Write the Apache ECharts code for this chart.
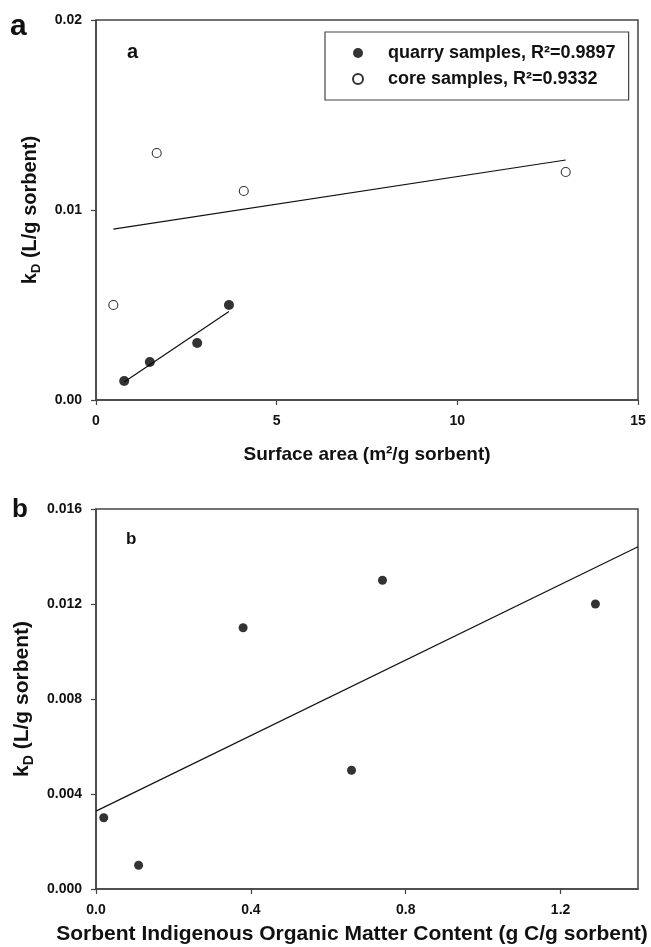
<!DOCTYPE html>
<html>
<head>
<meta charset="utf-8">
<script src="https://cdn.jsdelivr.net/npm/echarts@6/dist/echarts.min.js"></script>
<style>
html,body{margin:0;padding:0;background:#fff;}
#chart{width:651px;height:947px;}
</style>
</head>
<body>
<div id="chart"></div>
<script>
// Panel a: surface area vs kD
var quarrySA = [0.78, 1.49, 2.80, 3.68];
var quarryKD = [0.0010, 0.0020, 0.0030, 0.0050];
var coreSA = [0.48, 1.68, 4.09, 13.0];
var coreKD = [0.0050, 0.0130, 0.0110, 0.0120];
// fitted lines as drawn (endpoints)
var quarryFitX = [0.78, 3.68];
var quarryFitY = [0.00095, 0.00466];
var coreFitX = [0.48, 13.0];
var coreFitY = [0.00899, 0.01263];
var legendNames = ['quarry samples, R\u00b2=0.9897', 'core samples, R\u00b2=0.9332'];

// Panel b: organic matter content vs kD
var omX = [0.02, 0.11, 0.38, 0.66, 0.74, 1.29];
var omKD = [0.0030, 0.0010, 0.0110, 0.0050, 0.0130, 0.0120];
var omFitX = [0.0, 1.4];
var omFitY = [0.00328, 0.01441];

function pairs(xs, ys) { return xs.map(function (x, i) { return [x, ys[i]]; }); }

var FONT = '"Liberation Sans", Arial, sans-serif';
var AX = '#444';
var TXT = '#111';

function yName(fs, sub) {
  return {
    rich: {
      n: { fontFamily: FONT, fontWeight: 'bold', fontSize: fs, color: TXT, lineHeight: fs + 6, verticalAlign: 'middle' },
      s: { fontFamily: FONT, fontWeight: 'bold', fontSize: sub, color: TXT, lineHeight: fs + 6, verticalAlign: 'bottom', padding: [9, 0, 0, 0] }
    }
  };
}

var chart = echarts.init(document.getElementById('chart'), null, { renderer: 'canvas' });

var option = {
  backgroundColor: '#fff',
  animation: false,
  grid: [
    { left: 96, top: 20, width: 542, height: 380, show: true, borderColor: AX, borderWidth: 1.5, backgroundColor: 'transparent' },
    { left: 96, top: 509, width: 542, height: 380, show: true, borderColor: AX, borderWidth: 1.5, backgroundColor: 'transparent' }
  ],
  xAxis: [
    {
      gridIndex: 0, type: 'value', min: 0, max: 15, interval: 5,
      name: 'Surface area (m\u00b2/g sorbent)', nameLocation: 'middle', nameGap: 45,
      nameTextStyle: { fontFamily: FONT, fontWeight: 'bold', fontSize: 19, color: TXT },
      axisLine: { show: true, lineStyle: { color: AX, width: 1.5 } },
      axisTick: { show: true, inside: false, length: 5, lineStyle: { color: AX, width: 1.2 } },
      axisLabel: { margin: 14, fontFamily: FONT, fontWeight: 'bold', fontSize: 14, color: TXT },
      splitLine: { show: false }
    },
    {
      gridIndex: 1, type: 'value', min: 0, max: 1.4, interval: 0.4,
      name: 'Sorbent Indigenous Organic Matter Content (g C/g sorbent)', nameLocation: 'middle', nameGap: 35,
      nameTextStyle: { fontFamily: FONT, fontWeight: 'bold', fontSize: 21, color: TXT, padding: [0, 30, 0, 0] },
      axisLine: { show: true, lineStyle: { color: AX, width: 1.5 } },
      axisTick: { show: true, inside: false, length: 5, lineStyle: { color: AX, width: 1.2 } },
      axisLabel: { margin: 14, fontFamily: FONT, fontWeight: 'bold', fontSize: 14, color: TXT, showMaxLabel: false,
        formatter: function (v) { return v.toFixed(1); } },
      splitLine: { show: false }
    }
  ],
  yAxis: [
    {
      gridIndex: 0, type: 'value', min: 0, max: 0.02, interval: 0.01,
      name: '{n|k}{s|D}{n| (L/g sorbent)}', nameLocation: 'middle', nameGap: 53, nameRotate: 90,
      nameTextStyle: yName(20, 13),
      axisLine: { show: true, lineStyle: { color: AX, width: 1.5 } },
      axisTick: { show: true, inside: false, length: 5, lineStyle: { color: AX, width: 1.2 } },
      axisLabel: { margin: 14, fontFamily: FONT, fontWeight: 'bold', fontSize: 14, color: TXT,
        formatter: function (v) { return v.toFixed(2); } },
      splitLine: { show: false }
    },
    {
      gridIndex: 1, type: 'value', min: 0, max: 0.016, interval: 0.004,
      name: '{n|k}{s|D}{n| (L/g sorbent)}', nameLocation: 'middle', nameGap: 58, nameRotate: 90,
      nameTextStyle: yName(21, 14),
      axisLine: { show: true, lineStyle: { color: AX, width: 1.5 } },
      axisTick: { show: true, inside: false, length: 5, lineStyle: { color: AX, width: 1.2 } },
      axisLabel: { margin: 14, fontFamily: FONT, fontWeight: 'bold', fontSize: 14, color: TXT,
        formatter: function (v) { return v.toFixed(3); } },
      splitLine: { show: false }
    }
  ],
  legend: {
    data: legendNames,
    orient: 'vertical',
    left: 325, top: 32,
    padding: [12, 13, 12, 27],
    itemGap: 8,
    itemWidth: 10, itemHeight: 10,
    backgroundColor: '#fff',
    borderColor: AX, borderWidth: 1.2, borderRadius: 0,
    textStyle: { fontFamily: FONT, fontWeight: 'bold', fontSize: 18, color: TXT, padding: [0, 0, 0, 20] }
  },
  graphic: [
    { type: 'text', left: 10, top: 12, style: { text: 'a', fontFamily: FONT, fontWeight: 'bold', fontSize: 30, fill: TXT } },
    { type: 'text', left: 127, top: 42, style: { text: 'a', fontFamily: FONT, fontWeight: 'bold', fontSize: 20, fill: TXT } },
    { type: 'text', left: 12, top: 497, style: { text: 'b', fontFamily: FONT, fontWeight: 'bold', fontSize: 26, fill: TXT } },
    { type: 'text', left: 126, top: 531, style: { text: 'b', fontFamily: FONT, fontWeight: 'bold', fontSize: 17, fill: TXT } }
  ],
  series: [
    {
      name: legendNames[0], type: 'scatter', xAxisIndex: 0, yAxisIndex: 0,
      data: pairs(quarrySA, quarryKD), symbol: 'circle', symbolSize: 10,
      itemStyle: { color: '#000' }, z: 5
    },
    {
      name: legendNames[1], type: 'scatter', xAxisIndex: 0, yAxisIndex: 0,
      data: pairs(coreSA, coreKD), symbol: 'circle', symbolSize: 9,
      itemStyle: { color: '#fff', borderColor: '#000', borderWidth: 1.1 }, z: 5
    },
    {
      name: 'quarry fit', type: 'line', xAxisIndex: 0, yAxisIndex: 0,
      data: pairs(quarryFitX, quarryFitY), symbol: 'none',
      lineStyle: { color: '#111', width: 1.2 }, z: 3
    },
    {
      name: 'core fit', type: 'line', xAxisIndex: 0, yAxisIndex: 0,
      data: pairs(coreFitX, coreFitY), symbol: 'none',
      lineStyle: { color: '#111', width: 1.2 }, z: 3
    },
    {
      name: 'organic matter', type: 'scatter', xAxisIndex: 1, yAxisIndex: 1,
      data: pairs(omX, omKD), symbol: 'circle', symbolSize: 9,
      itemStyle: { color: '#000' }, z: 5
    },
    {
      name: 'organic fit', type: 'line', xAxisIndex: 1, yAxisIndex: 1,
      data: pairs(omFitX, omFitY), symbol: 'none',
      lineStyle: { color: '#111', width: 1.2 }, z: 3
    }
  ]
};
chart.setOption(option);
</script>
</body>
</html>
